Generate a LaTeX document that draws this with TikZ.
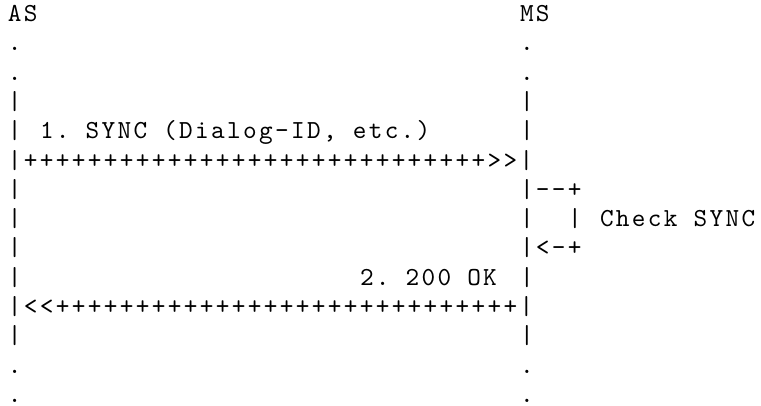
\documentclass[tikz,border=0pt]{standalone}
\usepackage{fontspec}
\setmonofont{lmmono10-regular.otf}[LetterSpace=9.0]

\begin{document}
\begin{tikzpicture}[x=1pt,y=-1pt,
  glyph/.style={anchor=base west,inner sep=0pt,outer sep=0pt,
    font=\ttfamily\fontsize{26}{29.3}\selectfont}]
\def\cw{16}
\def\lh{29.3}
\def\lx{8}
\def\ly{21.5}

\useasboundingbox (0,0) rectangle (761,405);

\newcommand{\chunk}[4]{%
  \node[glyph] (#1) at ({\lx+#2*\cw},{\ly+#3*\lh}) {#4};
}

% end points
\chunk{as}{0}{0}{AS}
\chunk{ms}{32}{0}{MS}
\foreach \r in {1,2,12,13} {
  \chunk{as-dot-\r}{0}{\r}{.}
  \chunk{ms-dot-\r}{32}{\r}{.}
}

% life lines
\foreach \r in {3,4,6,7,8,9,11} {
  \chunk{as-bar-\r}{0}{\r}{|}
}
\foreach \r in {3,4,9,11} {
  \chunk{ms-bar-\r}{32}{\r}{|}
}

% 1. SYNC
\chunk{sync-msg}{2}{4}{1. SYNC (Dialog-ID, etc.)}
\chunk{sync-arr}{0}{5}{|+++++++++++++++++++++++++++++>>|}

% check loop
\chunk{chk-out}{32}{6}{|--+}
\chunk{chk-bar}{32}{7}{|}
\chunk{chk-side}{35}{7}{|}
\chunk{chk-lbl}{37}{7}{Check SYNC}
\chunk{chk-back}{32}{8}{|<-+}

% 2. 200 OK
\chunk{ok-msg}{22}{9}{2. 200 OK}
\chunk{ok-arr}{0}{10}{|<<+++++++++++++++++++++++++++++|}
\end{tikzpicture}
\end{document}
